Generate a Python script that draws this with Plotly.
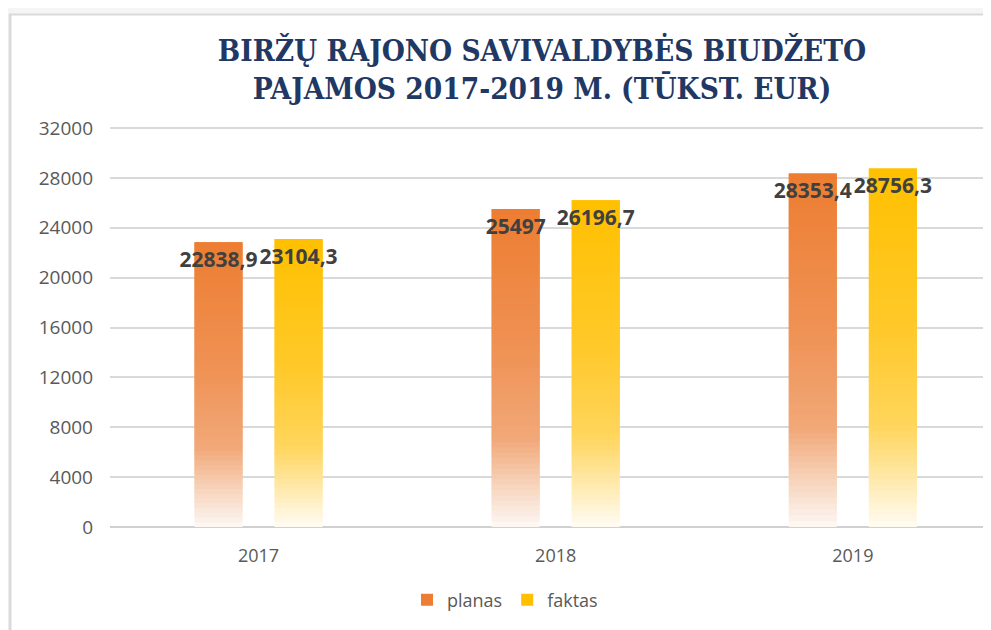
import plotly.graph_objects as go

# ---------------- data ----------------
years = ["2017", "2018", "2019"]
planas = [22838.9, 25497, 28353.4]
faktas = [23104.3, 26196.7, 28756.3]
planas_labels = ["22838,9", "25497", "28353,4"]
faktas_labels = ["23104,3", "26196,7", "28756,3"]
y_ticks = [0, 4000, 8000, 12000, 16000, 20000, 24000, 28000, 32000]
series_names = ["planas", "faktas"]
title_text = "BIRŽŲ RAJONO SAVIVALDYBĖS BIUDŽETO<br>PAJAMOS 2017-2019 M. (TŪKST. EUR)"

# ---------------- styles ----------------
# gradient stops: (fraction measured from bar top, colour)
orange_stops = [(0.0, "#ED7D31"), (0.45, "#EF9255"), (0.72, "#F1A878"),
                (0.86, "#F6D1B7"), (1.0, "#FDF8F5")]
yellow_stops = [(0.0, "#FFC000"), (0.45, "#FFC92A"), (0.72, "#FFD55C"),
                (0.86, "#FFE8A8"), (1.0, "#FFFCF3")]
N_SEG = 60
OVERLAP = 2.0  # segment height factor so neighbouring slices overlap (no seams)


def hex2rgb(h):
    h = h.lstrip("#")
    return tuple(int(h[i:i + 2], 16) for i in (0, 2, 4))


def interp(stops, p):
    for (p0, c0), (p1, c1) in zip(stops[:-1], stops[1:]):
        if p0 <= p <= p1:
            t = 0 if p1 == p0 else (p - p0) / (p1 - p0)
            a, b = hex2rgb(c0), hex2rgb(c1)
            r = [round(a[k] + (b[k] - a[k]) * t) for k in range(3)]
            return "rgb(%d,%d,%d)" % tuple(r)
    return stops[-1][1]


fig = go.Figure()

for name, vals, stops, grp in [(series_names[0], planas, orange_stops, "p"),
                               (series_names[1], faktas, yellow_stops, "f")]:
    for i in range(N_SEG):
        frac_from_bottom = (i + 0.5) / N_SEG
        col = interp(stops, 1 - frac_from_bottom)
        factor = OVERLAP if i < N_SEG - 1 else 1.0
        fig.add_trace(go.Bar(
            x=years,
            y=[v / N_SEG * factor for v in vals],
            base=[v * i / N_SEG for v in vals],
            offsetgroup=grp,
            name=name,
            legendgroup=name,
            showlegend=(i == N_SEG - 1),
            marker=dict(color=col, line=dict(width=0)),
            hoverinfo="skip",
        ))

# label traces (transparent bars carrying the data labels)
for vals, labels, grp in [(planas, planas_labels, "p"), (faktas, faktas_labels, "f")]:
    fig.add_trace(go.Bar(
        x=years, y=vals, offsetgroup=grp,
        marker=dict(color="rgba(0,0,0,0)", line=dict(width=0)),
        text=labels, textposition="inside", insidetextanchor="end",
        constraintext="none", textangle=0,
        textfont=dict(family="Open Sans", size=21, color="#404040", weight=700),
        showlegend=False, hoverinfo="skip", cliponaxis=False,
    ))

# page body has an 8px margin: work in page pixels and shift by it
OFF = 8
W, H = 991, 630
L = 110 - OFF
T = 120 - OFF
B = H - (527 - OFF)
R = OFF
pw, ph = W - L - R, H - T - B


def px2paper_x(px):
    return (px - OFF - L) / pw


def px2paper_y(py):
    return (H - B - (py - OFF)) / ph


shapes = [
    dict(type="rect", xref="paper", yref="paper", x0=px2paper_x(0), x1=px2paper_x(W + OFF),
         y0=px2paper_y(14), y1=px2paper_y(0), fillcolor="#f5f5f5", line=dict(width=0), layer="below"),
    dict(type="line", xref="paper", yref="paper", x0=px2paper_x(9), x1=px2paper_x(W + OFF),
         y0=px2paper_y(14.5), y1=px2paper_y(14.5), line=dict(color="#dadada", width=2)),
    dict(type="line", xref="paper", yref="paper", x0=px2paper_x(10), x1=px2paper_x(10),
         y0=px2paper_y(14), y1=px2paper_y(H + OFF), line=dict(color="#dadada", width=3)),
]

fig.update_layout(
    width=W, height=H,
    margin=dict(l=L, r=R, t=T, b=B, pad=0),
    paper_bgcolor="white", plot_bgcolor="white",
    barmode="group", bargap=0.461, bargroupgap=0.4,
    title=dict(text=title_text, x=(542 - OFF) / W, xanchor="center",
               y=1 - (61 - OFF) / H, yanchor="middle",
               font=dict(family="DejaVu Serif Condensed", size=29.5, color="#1F3864", weight=700)),
    xaxis=dict(type="category", range=[-0.5, 2.465], showgrid=False, ticks="",
               tickfont=dict(family="Open Sans", size=18, color="#595959"),
               ticklabelstandoff=16, showline=False, zeroline=False),
    yaxis=dict(range=[0, 32641], tickvals=y_ticks, ticktext=[str(t) for t in y_ticks],
               showgrid=True, gridcolor="#d9d9d9", gridwidth=1.5,
               zeroline=True, zerolinecolor="#d0d0d0", zerolinewidth=2,
               tickfont=dict(family="Open Sans", size=19, color="#595959"),
               ticks="", ticklabelstandoff=16, showline=False),
    legend=dict(orientation="h", x=px2paper_x(505), xanchor="center",
                y=px2paper_y(600), yanchor="middle",
                font=dict(family="Open Sans", size=18, color="#595959"),
                itemwidth=30, traceorder="normal"),
    shapes=shapes,
    showlegend=True,
)

fig.write_html("out.html")
